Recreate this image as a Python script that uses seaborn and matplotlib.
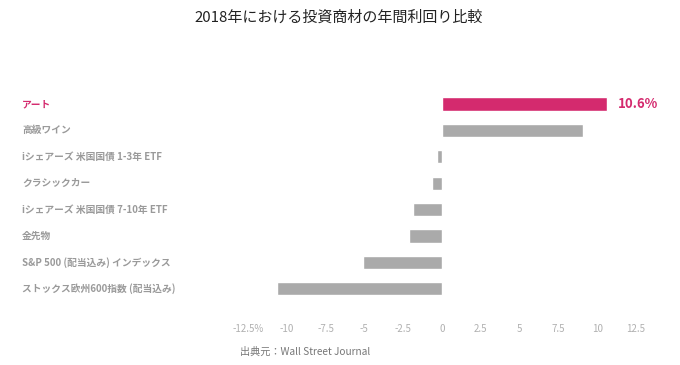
import matplotlib
matplotlib.use("Agg")
import matplotlib.pyplot as plt
import matplotlib.transforms as mtransforms
import seaborn as sns
import pandas as pd

categories = ["アート", "高級ワイン", "iシェアーズ 米国国債 1-3年 ETF", "クラシックカー",
              "iシェアーズ 米国国債 7-10年 ETF", "金先物", "S&P 500 (配当込み) インデックス",
              "ストックス欧州600指数 (配当込み)"]
values = [10.6, 9.1, -0.3, -0.65, -1.9, -2.1, -5.1, -10.6]
tick_values = [-12.5, -10, -7.5, -5, -2.5, 0, 2.5, 5, 7.5, 10, 12.5]
tick_labels = ["-12.5%", "-10", "-7.5", "-5", "-2.5", "0", "2.5", "5", "7.5", "10", "12.5"]
title = "2018年における投資商材の年間利回り比較"
source = "出典元：Wall Street Journal"

PINK = "#d42a6e"
GRAY = "#aaaaaa"

sns.set_theme(style="white")
plt.rcParams['font.family'] = ['Noto Sans CJK JP', 'DejaVu Sans']

df = pd.DataFrame({"cat": categories, "val": values,
                   "hl": ["hi"] + ["lo"] * (len(categories) - 1)})

W, H = 680, 365
fig = plt.figure(figsize=(W / 100, H / 100), dpi=100)
fig.patch.set_facecolor("white")
left, right = 248, 636
top, bottom = 90.8, 302
ax = fig.add_axes([left / W, 1 - bottom / H, (right - left) / W, (bottom - top) / H])

sns.barplot(data=df, x="val", y="cat", hue="hl", palette={"hi": PINK, "lo": GRAY},
            orient="h", width=0.5, legend=False, ax=ax, saturation=1)
ax.set_xlim(-12.5, 12.5)
ax.set_ylim(len(categories) - 0.5, -0.5)
ax.set_xticks(tick_values)
ax.set_xticklabels(tick_labels, fontsize=7, color="#b0b0b0")
ax.tick_params(axis="x", length=0, pad=16)
ax.set_yticks([])
ax.set_xlabel("")
ax.set_ylabel("")
for s in ax.spines.values():
    s.set_visible(False)
ax.patch.set_alpha(0)

trans = mtransforms.blended_transform_factory(fig.transFigure, ax.transData)
for i, c in enumerate(categories):
    ax.text(22 / W, i, c, transform=trans, ha="left", va="center", fontsize=7,
            fontweight="bold", color=PINK if i == 0 else "#9a9a9a")

ax.text(values[0] + 0.7, 0, f"{values[0]}%", ha="left", va="center",
        fontsize=9.5, fontweight="bold", color=PINK)

fig.text(339 / W, 1 - 18 / H, title, ha="center", va="center", fontsize=10.8, color="#222222")
fig.text(240 / W, 1 - 352 / H, source, ha="left", va="center", fontsize=7.3, color="#777777")

fig.savefig("out.png", dpi=100)
